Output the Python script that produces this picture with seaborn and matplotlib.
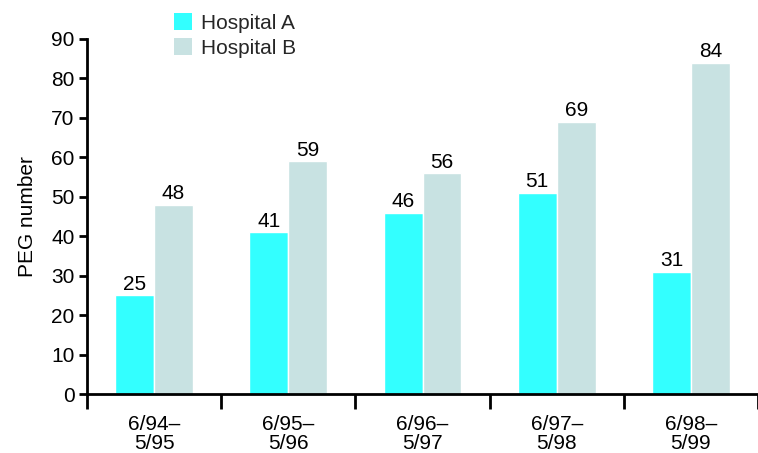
import matplotlib
matplotlib.use("Agg")
import matplotlib.pyplot as plt
import seaborn as sns
import pandas as pd
from matplotlib.patches import Patch

periods = ["6/94–\n5/95", "6/95–\n5/96", "6/96–\n5/97", "6/97–\n5/98", "6/98–\n5/99"]
hospital_a = [25, 41, 46, 51, 31]
hospital_b = [48, 59, 56, 69, 84]
series_names = ["Hospital A", "Hospital B"]
colors = ["#33FFFF", "#C8E2E2"]

df = pd.DataFrame({
    "period": periods * 2,
    "value": hospital_a + hospital_b,
    "hospital": [series_names[0]] * len(periods) + [series_names[1]] * len(periods),
})

sns.set_theme(style="ticks")
plt.rcParams["font.family"] = ["Liberation Sans", "DejaVu Sans"]
FS = 15

fig = plt.figure(figsize=(7.58, 4.53), dpi=100)
ax = fig.add_axes([87 / 758, 1 - 394 / 453, 1 - 87 / 758, (394 - 39) / 453])

sns.barplot(data=df, x="period", y="value", hue="hospital", palette=colors,
            width=0.58, edgecolor="white", linewidth=1, saturation=1,
            legend=False, ax=ax)

for container in ax.containers:
    ax.bar_label(container, fmt="%d", padding=1, fontsize=FS, color="black")

ax.set_ylim(0, 90)
ax.set_xlim(-0.5, len(periods) - 0.5)
ax.set_yticks(range(0, 91, 10))
ax.tick_params(axis="y", direction="out", length=6, width=2, labelsize=FS,
               colors="black", pad=3)
ax.set_xticks(range(len(periods)))
ax.set_xticklabels(periods, linespacing=1.0)
ax.tick_params(axis="x", which="major", length=0, labelsize=FS, pad=15,
               colors="black")
ax.set_xticks([i - 0.5 for i in range(len(periods) + 1)], minor=True)
ax.tick_params(axis="x", which="minor", direction="out", length=11, width=2,
               colors="black")

for side in ["top", "right"]:
    ax.spines[side].set_visible(False)
for side in ["left", "bottom"]:
    ax.spines[side].set_linewidth(2)
    ax.spines[side].set_color("black")

ax.set_xlabel("")
ax.set_ylabel("PEG number", fontsize=FS, color="black", labelpad=10)

handles = [Patch(facecolor=c, edgecolor="none") for c in colors]
fig.legend(handles, series_names, loc="upper left", bbox_to_anchor=(166 / 758, 1 - 5 / 453),
           frameon=False, fontsize=FS, handlelength=0.85, handleheight=0.85,
           handletextpad=0.45, labelspacing=0.25, borderaxespad=0)

fig.savefig("out.png", dpi=100)
